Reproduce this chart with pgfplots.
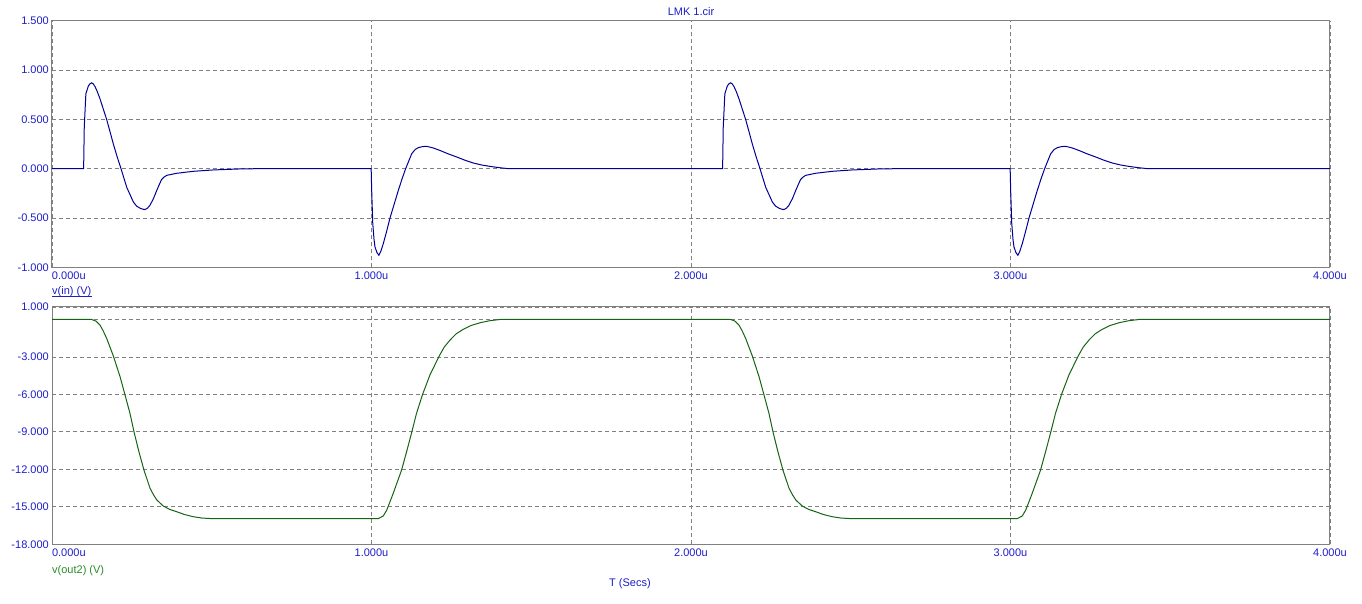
\documentclass[border=0pt]{standalone}
\usepackage{fontspec}
\setmainfont{Liberation Sans}
\usepackage{pgfplots}
\pgfplotsset{compat=1.18}
\definecolor{lblblue}{RGB}{30,30,200}
\definecolor{curveblue}{RGB}{0,0,150}
\definecolor{curvegreen}{RGB}{20,100,20}
\definecolor{lblgreen}{RGB}{40,140,40}
\definecolor{framegray}{RGB}{128,128,128}
\begin{document}
\begin{tikzpicture}[x=1pt,y=1pt]
\useasboundingbox (0,0) rectangle (1362,604);
\pgfplotsset{
 mcap/.style={
  scale only axis, width=1278pt, xmin=0, xmax=4,
  axis line style={framegray, line width=1pt},
  major tick length=0pt,
  grid=major,
  major grid style={framegray, dash pattern=on 4pt off 3pt, line width=0.8pt},
  tick label style={font=\fontsize{11}{13}\selectfont, text=lblblue},
  xtick={0,1,2,3,4},
  xticklabels={\makebox[0pt][l]{0.000u},1.000u,2.000u,3.000u,4.000u},
  xticklabel style={anchor=north, inner sep=0pt, yshift=-4.5pt},
  yticklabel style={anchor=east, inner sep=0pt, xshift=-3pt},
 }
}
\begin{axis}[mcap, at={(52pt,336.7pt)}, anchor=south west, height=246.6pt,
  ymin=-1, ymax=1.5, ytick={-1,-0.5,0,0.5,1,1.5},
  yticklabels={-1.000,-0.500,0.000,0.500,1.000,1.500}]
\addplot[curveblue, line width=1pt] coordinates {
(0,0) (0.099,0) (0.101,0.42) (0.106,0.76) (0.114,0.84) (0.119,0.86) (0.124,0.87) (0.129,0.86) (0.135,0.83) (0.142,0.78) (0.150,0.71) (0.160,0.61) (0.171,0.50) (0.182,0.37) (0.192,0.25) (0.204,0.12) (0.216,0) (0.234,-0.19) (0.255,-0.34) (0.265,-0.38) (0.275,-0.40) (0.283,-0.41) (0.291,-0.415) (0.299,-0.40) (0.307,-0.37) (0.318,-0.30) (0.328,-0.22) (0.336,-0.16) (0.343,-0.11) (0.351,-0.085) (0.359,-0.068) (0.39,-0.047) (0.442,-0.027) (0.505,-0.013) (0.588,-0.003) (0.65,0)
(0.999,0) (1.0006,-0.22) (1.004,-0.557) (1.008,-0.72) (1.011,-0.794) (1.017,-0.85) (1.023,-0.878) (1.029,-0.84) (1.037,-0.76) (1.047,-0.64) (1.058,-0.5) (1.071,-0.36) (1.084,-0.22) (1.096,-0.10) (1.107,0) (1.126,0.152) (1.137,0.195) (1.147,0.213) (1.160,0.224) (1.173,0.226) (1.193,0.21) (1.214,0.185) (1.240,0.15) (1.267,0.118) (1.293,0.085) (1.319,0.057) (1.345,0.037) (1.371,0.023) (1.400,0.010) (1.428,0)
(2.099,0) (2.101,0.42) (2.106,0.76) (2.114,0.84) (2.119,0.86) (2.124,0.87) (2.129,0.86) (2.135,0.83) (2.142,0.78) (2.150,0.71) (2.160,0.61) (2.171,0.50) (2.182,0.37) (2.192,0.25) (2.204,0.12) (2.216,0) (2.234,-0.19) (2.255,-0.34) (2.265,-0.38) (2.275,-0.40) (2.283,-0.41) (2.291,-0.415) (2.299,-0.40) (2.307,-0.37) (2.318,-0.30) (2.328,-0.22) (2.336,-0.16) (2.343,-0.11) (2.351,-0.085) (2.359,-0.068) (2.39,-0.047) (2.442,-0.027) (2.505,-0.013) (2.588,-0.003) (2.65,0)
(2.999,0) (3.0006,-0.22) (3.004,-0.557) (3.008,-0.72) (3.011,-0.794) (3.017,-0.85) (3.023,-0.878) (3.029,-0.84) (3.037,-0.76) (3.047,-0.64) (3.058,-0.5) (3.071,-0.36) (3.084,-0.22) (3.096,-0.10) (3.107,0) (3.126,0.152) (3.137,0.195) (3.147,0.213) (3.160,0.224) (3.173,0.226) (3.193,0.21) (3.214,0.185) (3.240,0.15) (3.267,0.118) (3.293,0.085) (3.319,0.057) (3.345,0.037) (3.371,0.023) (3.400,0.010) (3.428,0)
(4,0)};
\end{axis}
\begin{axis}[mcap, at={(52pt,59.7pt)}, anchor=south west, height=237.3pt,
  ymin=-18, ymax=1, ytick={-18,-15,-12,-9,-6,-3,0,1},
  yticklabels={-18.000,-15.000,-12.000,-9.000,-6.000,-3.000,,1.000}]
\addplot[curvegreen, line width=1pt] coordinates {
(0,0) (0.124,0) (0.137,-0.12) (0.150,-0.44) (0.160,-0.90) (0.171,-1.51) (0.192,-2.92) (0.213,-4.58) (0.228,-5.99) (0.244,-7.51) (0.257,-9.03) (0.272,-10.58) (0.288,-12.07) (0.307,-13.52) (0.318,-14.05) (0.328,-14.45) (0.348,-14.93) (0.368,-15.20) (0.390,-15.39) (0.415,-15.62) (0.442,-15.79) (0.470,-15.90) (0.505,-15.95)
(1.021,-15.95) (1.037,-15.73) (1.048,-15.25) (1.068,-13.92) (1.094,-12.07) (1.110,-10.58) (1.126,-9.03) (1.141,-7.51) (1.160,-5.99) (1.183,-4.44) (1.212,-2.92) (1.228,-2.20) (1.246,-1.64) (1.265,-1.15) (1.287,-0.79) (1.312,-0.48) (1.340,-0.26) (1.370,-0.10) (1.402,0)
(2.124,0) (2.137,-0.12) (2.150,-0.44) (2.160,-0.90) (2.171,-1.51) (2.192,-2.92) (2.213,-4.58) (2.228,-5.99) (2.244,-7.51) (2.257,-9.03) (2.272,-10.58) (2.288,-12.07) (2.307,-13.52) (2.318,-14.05) (2.328,-14.45) (2.348,-14.93) (2.368,-15.20) (2.390,-15.39) (2.415,-15.62) (2.442,-15.79) (2.470,-15.90) (2.505,-15.95)
(3.021,-15.95) (3.037,-15.73) (3.048,-15.25) (3.068,-13.92) (3.094,-12.07) (3.110,-10.58) (3.126,-9.03) (3.141,-7.51) (3.160,-5.99) (3.183,-4.44) (3.212,-2.92) (3.228,-2.20) (3.246,-1.64) (3.265,-1.15) (3.287,-0.79) (3.312,-0.48) (3.340,-0.26) (3.370,-0.10) (3.402,0)
(4,0)};
\end{axis}
\node[anchor=base, inner sep=0pt, text=lblblue, font=\fontsize{11}{13}\selectfont] at (691,588) {LMK 1.cir};
\node[name=uv, anchor=base west, inner sep=0pt, text=lblblue, font=\fontsize{11}{13}\selectfont] at (52,309.5) {v(in) (V)};
\draw[lblblue, line width=0.8pt] ([yshift=-2.3pt]uv.base west) -- ([yshift=-2.3pt]uv.base east);
\node[anchor=north west, inner sep=0pt, text=lblgreen, font=\fontsize{11}{13}\selectfont] at (52,38.5) {v(out2) (V)};
\node[anchor=north, inner sep=0pt, text=lblblue, font=\fontsize{11}{13}\selectfont] at (630,26) {T (Secs)};
\end{tikzpicture}
\end{document}
